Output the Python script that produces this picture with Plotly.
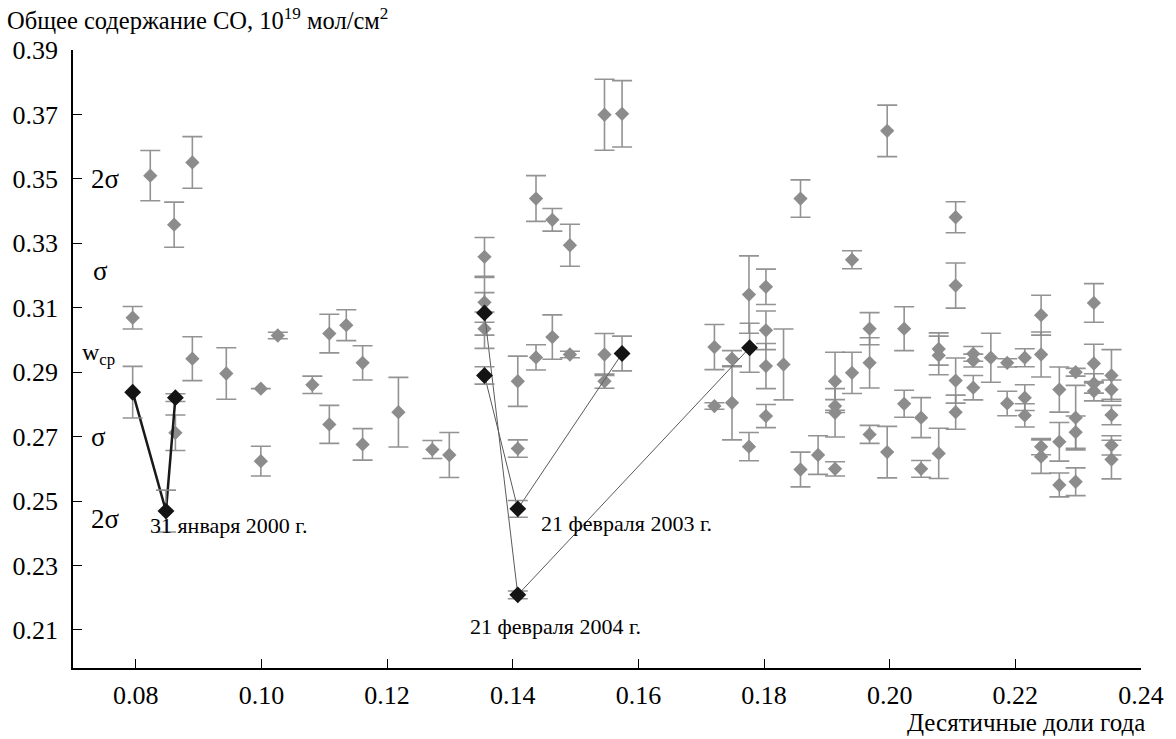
import plotly.graph_objects as go

# Gray measurement points (decimal year fraction, total CO, error)
gray_x = [0.0795, 0.0823, 0.0861, 0.0863, 0.0890, 0.0890, 0.0944, 0.0999, 0.0999, 0.1026,
          0.1081, 0.1108, 0.1108, 0.1135, 0.1161, 0.1161, 0.1218, 0.1272, 0.1299, 0.1355,
          0.1355, 0.1355, 0.1408, 0.1408, 0.1437, 0.1437, 0.1463, 0.1463, 0.1491, 0.1491,
          0.1546, 0.1546, 0.1546, 0.1574, 0.1721, 0.1721, 0.1749, 0.1749, 0.1776, 0.1776,
          0.1803, 0.1803, 0.1803, 0.1803, 0.1831, 0.1858, 0.1858, 0.1886, 0.1913, 0.1913,
          0.1913, 0.1913, 0.1940, 0.1940, 0.1968, 0.1968, 0.1968, 0.1996, 0.1996, 0.2023,
          0.2023, 0.2050, 0.2050, 0.2078, 0.2078, 0.2078, 0.2105, 0.2105, 0.2105, 0.2105,
          0.2133, 0.2133, 0.2133, 0.2161, 0.2187, 0.2187, 0.2215, 0.2215, 0.2215, 0.2241,
          0.2241, 0.2241, 0.2241, 0.2270, 0.2270, 0.2270, 0.2296, 0.2296, 0.2296, 0.2296,
          0.2325, 0.2325, 0.2325, 0.2325, 0.2353, 0.2353, 0.2353, 0.2353, 0.2353]
gray_y = [0.3069, 0.3510, 0.3358, 0.2712, 0.3551, 0.2942, 0.2896, 0.2849, 0.2624, 0.3014,
          0.2861, 0.3020, 0.2738, 0.3046, 0.2929, 0.2676, 0.2776, 0.2660, 0.2643, 0.3258,
          0.3117, 0.3035, 0.2872, 0.2663, 0.3439, 0.2946, 0.3373, 0.3009, 0.3294, 0.2955,
          0.3699, 0.2955, 0.2872, 0.3702, 0.2978, 0.2795, 0.2942, 0.2805, 0.3141, 0.2669,
          0.3165, 0.3030, 0.2919, 0.2764, 0.2924, 0.3439, 0.2598, 0.2643, 0.2872, 0.2795,
          0.2774, 0.2600, 0.3249, 0.2898, 0.3035, 0.2929, 0.2707, 0.3649, 0.2652, 0.3035,
          0.2802, 0.2759, 0.2600, 0.2972, 0.2952, 0.2648, 0.3381, 0.3169, 0.2874, 0.2776,
          0.2957, 0.2936, 0.2852, 0.2945, 0.2929, 0.2803, 0.2945, 0.2821, 0.2766, 0.3077,
          0.2955, 0.2669, 0.2638, 0.2846, 0.2684, 0.2550, 0.2900, 0.2759, 0.2714, 0.2560,
          0.3115, 0.2927, 0.2865, 0.2841, 0.2890, 0.2846, 0.2767, 0.2673, 0.2629]
gray_err = [0.0035, 0.0078, 0.0070, 0.0055, 0.0080, 0.0068, 0.0080, 0.0000, 0.0046, 0.0010,
            0.0027, 0.0060, 0.0059, 0.0048, 0.0053, 0.0049, 0.0108, 0.0028, 0.0070, 0.0060,
            0.0030, 0.0020, 0.0078, 0.0027, 0.0071, 0.0039, 0.0035, 0.0069, 0.0065, 0.0010,
            0.0110, 0.0065, 0.0022, 0.0103, 0.0070, 0.0010, 0.0025, 0.0115, 0.0120, 0.0044,
            0.0055, 0.0060, 0.0070, 0.0036, 0.0110, 0.0058, 0.0054, 0.0060, 0.0090, 0.0020,
            0.0075, 0.0022, 0.0028, 0.0064, 0.0050, 0.0078, 0.0028, 0.0080, 0.0080, 0.0068,
            0.0042, 0.0062, 0.0026, 0.0050, 0.0060, 0.0078, 0.0048, 0.0070, 0.0070, 0.0053,
            0.0023, 0.0020, 0.0038, 0.0076, 0.0013, 0.0038, 0.0028, 0.0040, 0.0036, 0.0062,
            0.0070, 0.0025, 0.0052, 0.0070, 0.0060, 0.0037, 0.0012, 0.0100, 0.0050, 0.0043,
            0.0060, 0.0060, 0.0030, 0.0030, 0.0080, 0.0030, 0.0030, 0.0030, 0.0060]

# Highlighted events (black diamonds)
black_x = [0.0795, 0.0848, 0.0863, 0.1355, 0.1355, 0.1408, 0.1408, 0.1574, 0.1777]
black_y = [0.2838, 0.2469, 0.2821, 0.3084, 0.2890, 0.2476, 0.2209, 0.2958, 0.2976]
black_err = [0.0080, 0.0065, 0.0012, 0.0110, 0.0027, 0.0026, 0.0012, 0.0054, 0.0076]

# Connecting lines of events
line2000_x = [0.0795, 0.0848, 0.0863]
line2000_y = [0.2838, 0.2469, 0.2821]
line2003_x = [0.1355, 0.1408, 0.1574]
line2003_y = [0.2890, 0.2476, 0.2958]
line2004_x = [0.1355, 0.1408, 0.1777]
line2004_y = [0.3084, 0.2209, 0.2976]

x_ticks = [0.08, 0.10, 0.12, 0.14, 0.16, 0.18, 0.20, 0.22, 0.24]
y_ticks = [0.21, 0.23, 0.25, 0.27, 0.29, 0.31, 0.33, 0.35, 0.37, 0.39]

FONT = "Liberation Serif, Times New Roman, serif"
ERRC = "rgba(135,135,135,0.9)"

fig = go.Figure()

fig.add_trace(go.Scatter(
    x=gray_x, y=gray_y, mode="markers",
    marker=dict(symbol="diamond", size=11, color="rgb(140,140,140)", line=dict(width=0)),
    error_y=dict(type="data", array=gray_err, visible=True, color=ERRC, thickness=1.6, width=10),
    showlegend=False, hoverinfo="x+y"))

fig.add_trace(go.Scatter(
    x=line2003_x, y=line2003_y, mode="lines",
    line=dict(color="rgb(90,90,90)", width=1), showlegend=False))
fig.add_trace(go.Scatter(
    x=line2004_x, y=line2004_y, mode="lines",
    line=dict(color="rgb(90,90,90)", width=1), showlegend=False))
fig.add_trace(go.Scatter(
    x=line2000_x, y=line2000_y, mode="lines",
    line=dict(color="rgb(25,25,25)", width=2.5), showlegend=False))

fig.add_trace(go.Scatter(
    x=black_x, y=black_y, mode="markers",
    marker=dict(symbol="diamond", size=13, color="rgb(20,20,20)", line=dict(width=0)),
    error_y=dict(type="data", array=black_err, visible=True, color=ERRC, thickness=1.6, width=10),
    showlegend=False))

sigma_labels = [
    dict(x=0.07262, y=0.3500, text="2σ", size=27),
    dict(x=0.07280, y=0.3215, text="σ", size=27),
    dict(x=0.07104, y=0.2955, text="w<sub>cp</sub>", size=24),
    dict(x=0.07262, y=0.2699, text="σ", size=27),
    dict(x=0.07262, y=0.2443, text="2σ", size=27),
]
for a in sigma_labels:
    fig.add_annotation(x=a["x"], y=a["y"], xref="x", yref="y", text=a["text"],
                       xanchor="left", showarrow=False,
                       font=dict(family=FONT, size=a["size"], color="black"))

date_labels = [
    dict(x=0.0947, y=0.2425, text="31 января 2000 г."),
    dict(x=0.1581, y=0.2431, text="21 февраля 2003 г."),
    dict(x=0.1468, y=0.2111, text="21 февраля 2004 г."),
]
for a in date_labels:
    fig.add_annotation(x=a["x"], y=a["y"], xref="x", yref="y", text=a["text"],
                       showarrow=False, font=dict(family=FONT, size=22, color="black"))

fig.update_layout(
    width=1176, height=739,
    margin=dict(l=68, r=32, t=50, b=71),
    paper_bgcolor="white", plot_bgcolor="white",
    font=dict(family=FONT, size=25, color="black"),
    showlegend=False,
    xaxis=dict(range=[0.07, 0.24], tickvals=x_ticks, tickformat=".2f",
               ticks="inside", ticklen=9, tickwidth=1.3, tickcolor="black",
               showline=True, linecolor="black", linewidth=1.8,
               showgrid=False, zeroline=False, ticklabelstandoff=3,
               tickfont=dict(family=FONT, size=26)),
    yaxis=dict(range=[0.1982, 0.39], tickvals=y_ticks, tickformat=".2f",
               ticks="inside", ticklen=9, tickwidth=1.3, tickcolor="black",
               showline=True, linecolor="black", linewidth=1.8,
               showgrid=False, zeroline=False, ticklabelstandoff=8,
               tickfont=dict(family=FONT, size=26)),
)

fig.add_annotation(x=0, y=1 + 48 / 618, xref="paper", yref="paper", xanchor="left", yanchor="top",
                   xshift=-68,
                   text="Общее содержание CO, 10<sup>19</sup> мол/см<sup>2</sup>",
                   showarrow=False, font=dict(family=FONT, size=24.5, color="black"))
fig.add_annotation(x=1, y=0, xref="paper", yref="paper", xanchor="right", yanchor="top",
                   xshift=6, yshift=-39,
                   text="Десятичные доли года",
                   showarrow=False, font=dict(family=FONT, size=25, color="black"))

fig.write_html("out.html",
               config={"displayModeBar": False},
               post_script="document.body.style.margin='0';document.body.style.overflow='hidden';")
